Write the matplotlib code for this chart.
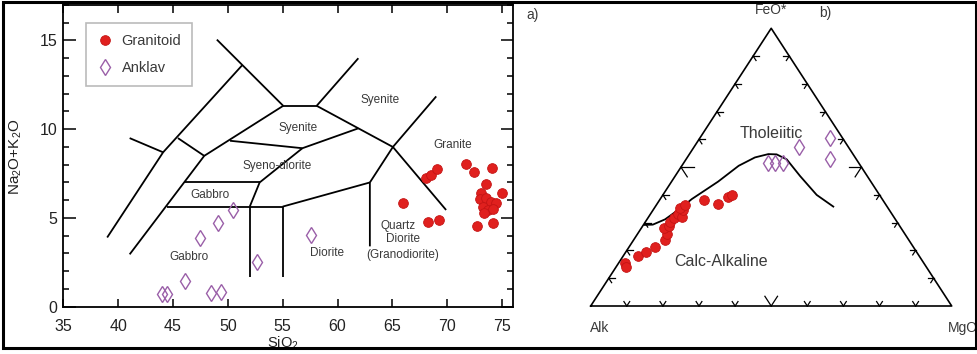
import matplotlib.pyplot as plt
from matplotlib.patches import Rectangle
from matplotlib.ticker import MultipleLocator

plt.rcParams['font.family'] = ['Liberation Sans', 'DejaVu Sans']
plt.rcParams['mathtext.fontset'] = 'custom'
plt.rcParams['mathtext.rm'] = 'Liberation Sans'
plt.rcParams['mathtext.it'] = 'Liberation Sans:italic'

RED = '#e0201e'
PURPLE = '#9a5fa8'
TXT = '#3a3a3a'

# ---- a) TAS diagram: SiO2 vs Na2O+K2O ----
gran_sio2 = [65.97, 68.1, 68.55, 69.06, 68.24, 69.24, 71.68, 72.4, 74.1, 73.5, 73.1,
             73.0, 75.0, 73.56, 74.0, 74.47, 73.25, 73.7, 74.16, 73.4, 72.7, 74.2]
gran_alk = [5.87, 7.24, 7.43, 7.75, 4.79, 4.89, 8.05, 7.61, 7.8, 6.92, 6.4,
            6.06, 6.4, 6.11, 5.92, 5.83, 5.64, 5.45, 5.49, 5.3, 4.55, 4.7]
ank_sio2 = [44.0, 44.5, 46.1, 47.45, 49.06, 50.48, 48.5, 49.4, 52.7, 57.6]
ank_alk = [0.72, 0.70, 1.43, 3.86, 4.74, 5.45, 0.79, 0.82, 2.54, 4.04]

# field boundaries (SiO2, Na2O+K2O)
tas_lines = [
    [(39.0, 3.9), (44.1, 8.7), (51.3, 13.6)],
    [(49.0, 15.05), (55.05, 11.32)],
    [(55.05, 11.32), (58.1, 11.32)],
    [(58.1, 11.32), (61.9, 14.0)],
    [(58.1, 11.32), (65.05, 9.0), (69.9, 5.45)],
    [(69.0, 11.85), (65.05, 9.0), (62.95, 7.0), (62.95, 3.4)],
    [(55.0, 5.64), (62.95, 7.0)],
    [(44.5, 5.64), (55.0, 5.64)],
    [(52.0, 5.64), (52.0, 1.7)],
    [(55.0, 5.64), (55.0, 1.7)],
    [(41.05, 2.95), (47.85, 8.5), (55.05, 11.32)],
    [(41.05, 9.5), (44.1, 8.7)],
    [(45.45, 9.5), (47.85, 8.5)],
    [(46.05, 7.0), (52.9, 7.0)],
    [(52.0, 5.64), (52.9, 7.0), (56.8, 8.93), (61.9, 10.05)],
    [(50.2, 9.35), (56.8, 8.93)],
]
tas_labels = [
    ('Syenite', 56.4, 10.05), ('Syenite', 63.85, 11.66), ('Granite', 70.5, 9.12),
    ('Syeno-diorite', 54.45, 7.9), ('Gabbro', 48.4, 6.3), ('Gabbro', 46.5, 2.82),
    ('Diorite', 59.0, 3.0), ('Quartz', 65.5, 4.55), ('Diorite', 65.97, 3.8),
    ('(Granodiorite)', 65.97, 2.92),
]

# ---- b) AFM diagram (A, F, M in %) ----
gran_A = [82.8, 83.1, 77.9, 74.9, 71.6, 67.5, 66.0, 65.65, 63.9, 62.95,
          61.1, 59.3, 58.75, 57.2, 57.6, 55.8, 49.4, 46.3, 42.25, 41.0]
gran_F = [15.4, 14.2, 18.0, 19.6, 21.2, 23.8, 25.9, 28.1, 28.8, 30.2,
          31.7, 33.3, 31.9, 34.4, 35.3, 36.2, 38.2, 36.7, 39.25, 39.8]
gran_M = [1.8, 2.7, 4.1, 5.5, 7.2, 8.7, 8.1, 6.25, 7.3, 6.85,
          7.2, 7.4, 9.35, 8.4, 7.1, 8.0, 12.4, 17.0, 18.5, 19.2]
ank_A = [25.1, 23.25, 21.1, 13.65, 3.5, 7.3]
ank_F = [51.4, 51.4, 51.4, 57.15, 60.4, 52.8]
ank_M = [23.5, 25.35, 27.5, 29.2, 36.1, 39.9]
bnd_A = [70.4, 68.15, 63.8, 57.05, 52.75, 42.3, 33.75, 27.75, 23.45, 21.2, 19.3, 18.6, 17.4, 14.9]
bnd_F = [29.2, 29.3, 31.2, 35.5, 38.5, 44.8, 50.5, 53.5, 54.7, 54.6, 52.8, 46.8, 40.0, 35.8]
bnd_M = [0.4, 2.55, 5.0, 7.45, 8.75, 12.9, 15.75, 18.75, 21.85, 24.2, 27.9, 34.6, 42.6, 49.3]


def tern(a, f, m):
    xs, ys = [], []
    for ai, fi, mi in zip(a, f, m):
        t = ai + fi + mi
        xs.append((mi + fi / 2) / t)
        ys.append(fi / t)
    return xs, ys


fig = plt.figure(figsize=(9.77, 3.54), dpi=100)

ax = fig.add_axes([63.3 / 977, 1 - 306.7 / 354, 449.7 / 977, 301.7 / 354])
for seg in tas_lines:
    ax.plot([p[0] for p in seg], [p[1] for p in seg], color='black', lw=1.3,
            solid_capstyle='butt', zorder=2)
for txt, x, y in tas_labels:
    ax.text(x, y, txt, ha='center', va='center', fontsize=8.5, color=TXT)
ax.plot(gran_sio2, gran_alk, 'o', ms=7, color=RED, mec='#c41414', mew=0.6,
        label='Granitoid', zorder=4)
ax.plot(ank_sio2, ank_alk, 'd', ms=8.5, mfc='none', mec=PURPLE, mew=1.0,
        label='Anklav', zorder=4)
ax.set_xlim(35, 76)
ax.set_ylim(0, 17)
ax.set_xticks(range(35, 80, 5))
ax.set_yticks([0, 5, 10, 15])
ax.yaxis.set_minor_locator(MultipleLocator(1))
ax.tick_params(which='both', direction='in', top=True, right=True, width=1.1,
               labelsize=11.5, labelcolor='#222222')
ax.tick_params(axis='x', which='major', length=6, pad=9)
ax.tick_params(axis='y', which='major', length=9, pad=4.5)
ax.tick_params(axis='y', which='minor', length=4.5)
for sp in ax.spines.values():
    sp.set_linewidth(1.3)
ax.set_xlabel(r'SiO$_2$', fontsize=10.5, color='#222222')
ax.xaxis.set_label_coords(0.4886, -0.093)
fig.text(16 / 977, 1 - 157 / 354, r'Na$_2$O+K$_2$O', rotation=90, ha='center',
         va='center', fontsize=11, color='#222222')
leg = ax.legend(loc='upper left', bbox_to_anchor=(0.05, 0.94), borderaxespad=0,
                fontsize=10.5, frameon=True, fancybox=False, edgecolor='#aaaaaa',
                handlelength=1.1, handletextpad=0.6, borderpad=0.75,
                labelspacing=0.9)
leg.get_frame().set_linewidth(1.2)
for t in leg.get_texts():
    t.set_color(TXT)
fig.text(533 / 977, 1 - 15 / 354, 'a)', ha='center', va='center', fontsize=10, color=TXT)

# ternary panel
bx = fig.add_axes([590.7 / 977, 1 - 306 / 354, 361 / 977, 277.7 / 354])
bx.set_xlim(0, 1)
bx.set_ylim(0, 1)
bx.axis('off')
bx.plot([0, 1, 0.5, 0], [0, 0, 1, 0], color='black', lw=1.2, clip_on=False)
for i in range(1, 10):
    t = i / 10
    s = 0.035 if i == 5 else 0.016
    for (px, py), arms in [((t, 0), [(0.5, 1), (-0.5, 1)]),
                           ((t / 2, t), [(1, 0), (0.5, -1)]),
                           ((1 - t / 2, t), [(-1, 0), (-0.5, -1)])]:
        for dx, dy in arms:
            bx.plot([px, px + dx * s], [py, py + dy * s], color='black', lw=0.9,
                    clip_on=False)
cx, cy = tern(bnd_A, bnd_F, bnd_M)
bx.plot(cx, cy, color='black', lw=1.3, clip_on=False)
gx, gy = tern(gran_A, gran_F, gran_M)
bx.plot(gx, gy, 'o', ms=7, color=RED, mec='#c41414', mew=0.6, clip_on=False, zorder=4)
kx, ky = tern(ank_A, ank_F, ank_M)
bx.plot(kx, ky, 'd', ms=8.5, mfc='none', mec=PURPLE, mew=1.0, clip_on=False, zorder=4)
bx.text(0.5, 1.065, 'FeO*', ha='center', va='center', fontsize=10, color=TXT)
bx.text(0.65, 1.055, 'b)', ha='center', va='center', fontsize=10, color=TXT)
bx.text(0.026, -0.08, 'Alk', ha='center', va='center', fontsize=10, color=TXT)
bx.text(1.03, -0.08, 'MgO', ha='center', va='center', fontsize=10, color=TXT)
bx.text(0.5, 0.62, 'Tholeiitic', ha='center', va='center', fontsize=11.5, color=TXT)
bx.text(0.362, 0.16, 'Calc-Alkaline', ha='center', va='center', fontsize=11.5, color=TXT)

fig.patches.append(Rectangle((3 / 977, 0.017), 972.5 / 977, 0.977, transform=fig.transFigure,
                             fill=False, lw=2.2, ec='black', zorder=10))

fig.savefig('out.png', dpi=100)
